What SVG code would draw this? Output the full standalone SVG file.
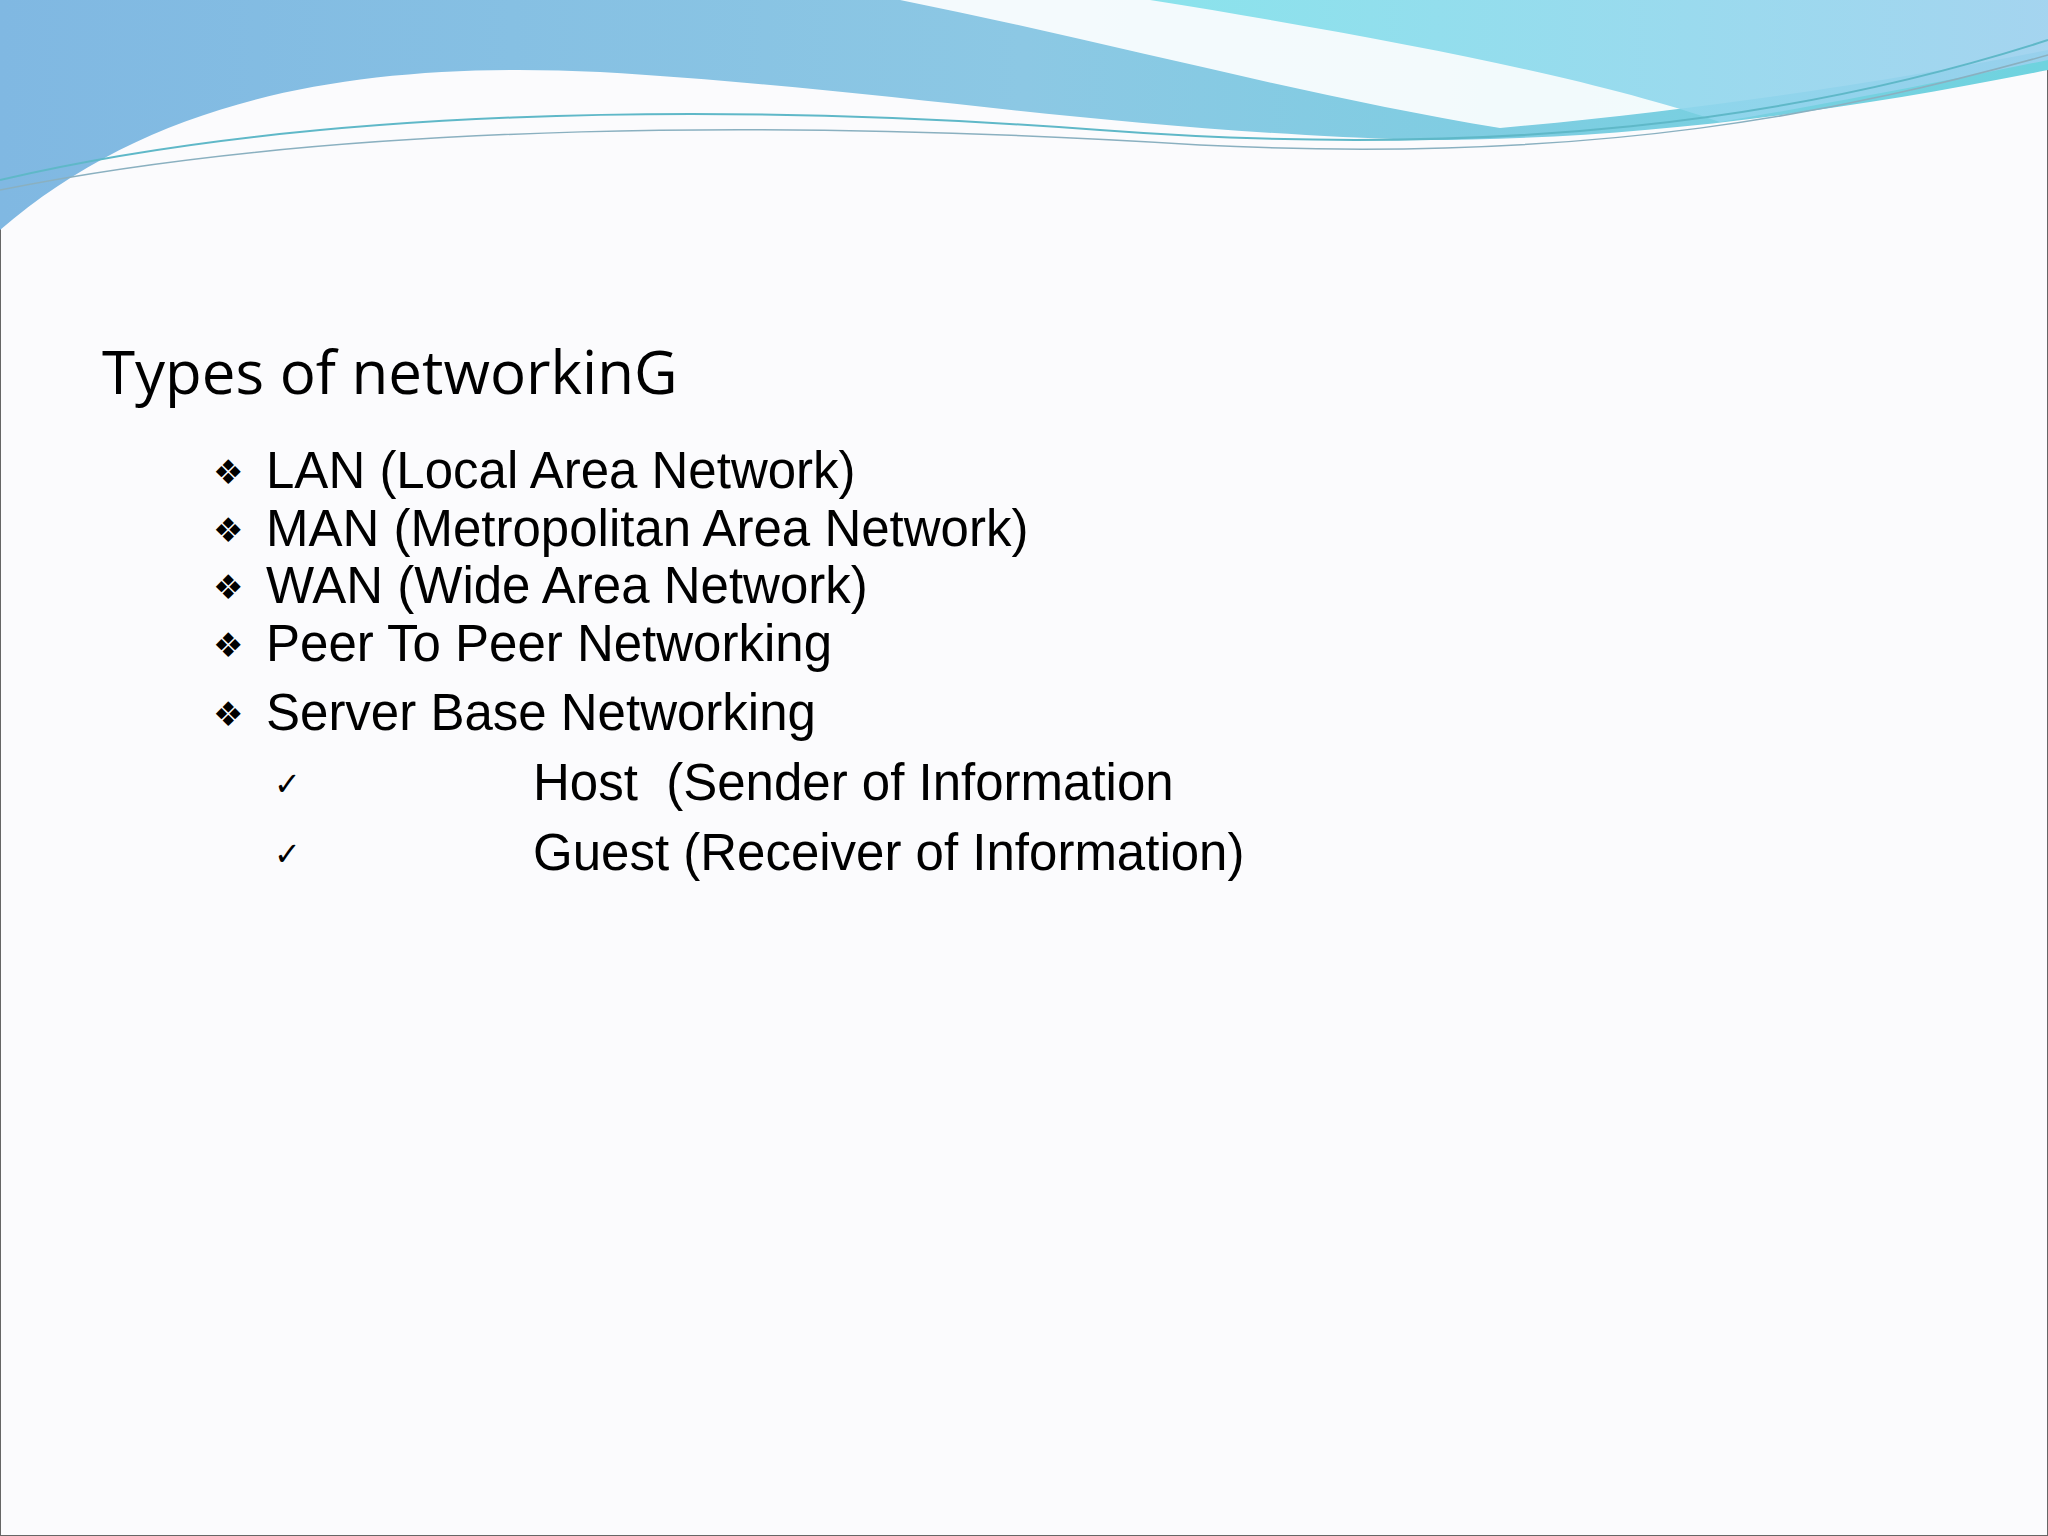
<svg xmlns="http://www.w3.org/2000/svg" width="2048" height="1536" viewBox="0 0 2048 1536">
<defs>
<linearGradient id="g" x1="0" y1="0" x2="1" y2="0">
<stop offset="0" stop-color="#80b8e2"/><stop offset="0.5" stop-color="#8cc8e4"/><stop offset="1" stop-color="#6fd3df"/>
</linearGradient>
<linearGradient id="g2" x1="0" y1="0" x2="1" y2="0">
<stop offset="0" stop-color="#7fe0ea"/><stop offset="1" stop-color="#9cd0ee"/>
</linearGradient>
</defs>
<style>
.t{font-family:"Liberation Sans",Arial,sans-serif;fill:#000;font-size:51px}
.b{font-family:"DejaVu Sans",sans-serif;fill:#000;font-size:34px}
.h{font-family:"Open Sans","Noto Sans",sans-serif;fill:#000}
</style>
<rect width="2048" height="1536" fill="#fbfbfd" stroke="#666" stroke-width="2"/>
<g id="header">
<path d="M0,0 H2048 V70 C1800,120 1600,140 1420,140 C1100,130 900,90 600,72 C350,60 150,100 0,230 Z" fill="url(#g)"/>
<path d="M900,0 C1100,40 1300,95 1500,128 C1700,110 1900,80 2048,50 V0 Z" fill="#ffffff" opacity="0.9"/>
<path d="M1150,0 C1400,40 1600,80 1720,122 C1850,100 1950,80 2048,60 V0 Z" fill="url(#g2)" opacity="0.9"/>
<path d="M0,180 C300,110 700,100 1100,130 C1500,160 1800,120 2048,40" fill="none" stroke="#5fb8c8" stroke-width="2"/>
<path d="M0,190 C350,120 800,120 1200,145 C1600,165 1850,110 2048,55" fill="none" stroke="#8ab0c0" stroke-width="1.5"/>
</g>
<g id="title"><text class="h" x="102" y="394" font-size="60">Types of networkinG</text></g>
<g id="list">
<text class="b" x="213" y="484">❖</text><text class="t" x="266" y="488">LAN (Local Area Network)</text>
<text class="b" x="213" y="542">❖</text><text class="t" x="266" y="546">MAN (Metropolitan Area Network)</text>
<text class="b" x="213" y="599">❖</text><text class="t" x="266" y="603">WAN (Wide Area Network)</text>
<text class="b" x="213" y="657">❖</text><text class="t" x="266" y="661">Peer To Peer Networking</text>
<text class="b" x="213" y="726">❖</text><text class="t" x="266" y="730">Server Base Networking</text>
<text class="t" x="274" y="795" style="font-size:32px">✓</text>
<text class="t" x="533" y="800" xml:space="preserve">Host  (Sender of Information</text>
<text class="t" x="274" y="865" style="font-size:32px">✓</text>
<text class="t" x="533" y="870">Guest (Receiver of Information)</text>
</g>
</svg>
